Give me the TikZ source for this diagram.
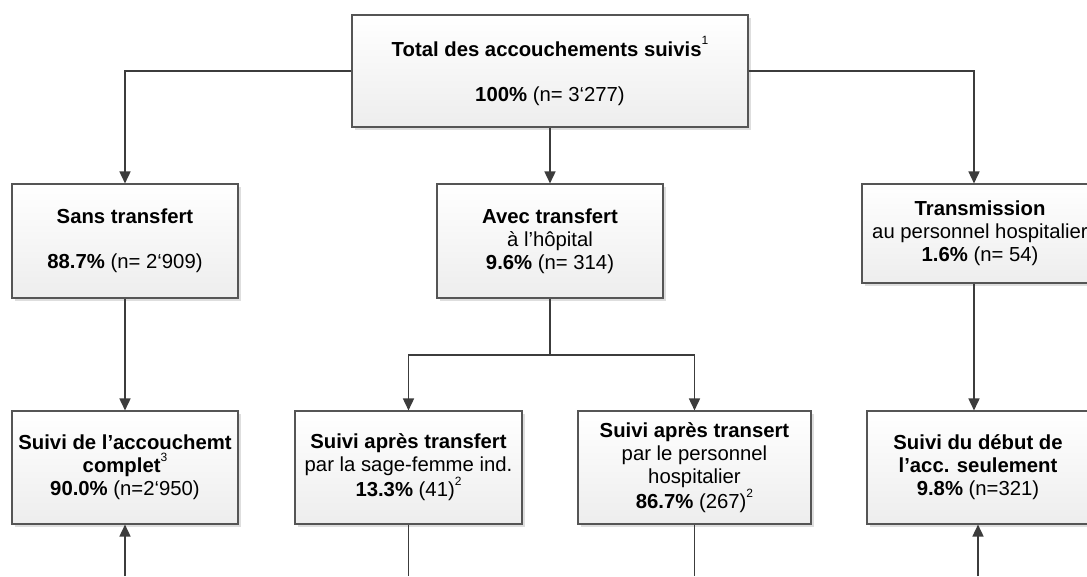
\documentclass[tikz,border=0pt]{standalone}
\usepackage{fontspec}
\setmainfont{Liberation Sans}
\usetikzlibrary{arrows.meta,shadows}
\definecolor{linec}{HTML}{3C3C3C}
\definecolor{boxline}{HTML}{555555}
\newcommand\supnum[1]{\raisebox{0.55em}{\fontsize{12}{12}\selectfont #1}}
\begin{document}
\begin{tikzpicture}[x=1pt,y=-1pt,
  box/.style={draw=boxline, line width=1.1pt, top color=white, bottom color=black!7,
    drop shadow={shadow xshift=3pt, shadow yshift=-3pt, fill=black!13, opacity=1},
    align=center, inner sep=2pt, font=\fontsize{20.3}{23}\selectfont},
  conn/.style={draw=linec, line width=1.6pt},
  arr/.style={conn, -{Triangle[length=12pt,width=11pt]}}]
\useasboundingbox (0,0) rectangle (1087,576);

\node[box, minimum width=396pt, minimum height=112pt] (top) at (550,71)
  {\textbf{Total des accouchements suivis}\supnum{1}\\[22pt]\textbf{100\%} (n= 3‘277)};

\node[box, minimum width=226pt, minimum height=114pt] (sans) at (125,241)
  {\textbf{Sans transfert}\\[22pt]\textbf{88.7\%} (n= 2‘909)};
\node[box, minimum width=226pt, minimum height=114pt] (avec) at (550,241)
  {\textbf{Avec transfert}\\à l’hôpital\\\textbf{9.6\%} (n= 314)};
\node[box, minimum width=236pt, minimum height=99pt] (trans) at (980,233.5)
  {\textbf{Transmission}\\au personnel hospitalier\\\textbf{1.6\%} (n= 54)};

\node[box, minimum width=226pt, minimum height=113pt] (b1) at (125,467.5)
  {\textbf{Suivi de l’accouchemt}\\\textbf{complet}\supnum{3}\\\textbf{90.0\%} (n=2‘950)};
\node[box, minimum width=227pt, minimum height=113pt] (b2) at (408.5,467.5)
  {\textbf{Suivi après transfert}\\par la sage-femme ind.\\\textbf{13.3\%} (41)\supnum{2}};
\node[box, minimum width=233pt, minimum height=113pt] (b3) at (694.5,467.5)
  {\textbf{Suivi après transert}\\par le personnel\\hospitalier\\\textbf{86.7\%} (267)\supnum{2}};
\node[box, minimum width=222pt, minimum height=113pt] (b4) at (978,467.5)
  {\textbf{Suivi du début de}\\\textbf{l’acc. seulement}\\\textbf{9.8\%} (n=321)};

\coordinate (split) at (550,355);
\coordinate (e1) at (125,576);
\coordinate (e2) at (408.5,576);
\coordinate (e3) at (694.5,576);
\coordinate (e4) at (978,576);
\coordinate (tn) at ([xshift=-6pt]trans.north);
\coordinate (ts) at ([xshift=-6pt]trans.south);

\draw[arr] (top.west) -| (sans.north);
\draw[arr] (top.south) -- (avec.north);
\draw[arr] (top.east) -| (tn);
\draw[arr] (sans.south) -- (b1.north);
\draw[conn] (avec.south) -- (split);
\draw[arr] (split) -| (b2.north);
\draw[arr] (split) -| (b3.north);
\draw[arr] (ts) -- (ts |- b4.north);
\draw[arr] (e1) -- (b1.south);
\draw[conn] (b2.south) -- (e2);
\draw[conn] (b3.south) -- (e3);
\draw[arr] (e4) -- (b4.south);
\end{tikzpicture}
\end{document}
